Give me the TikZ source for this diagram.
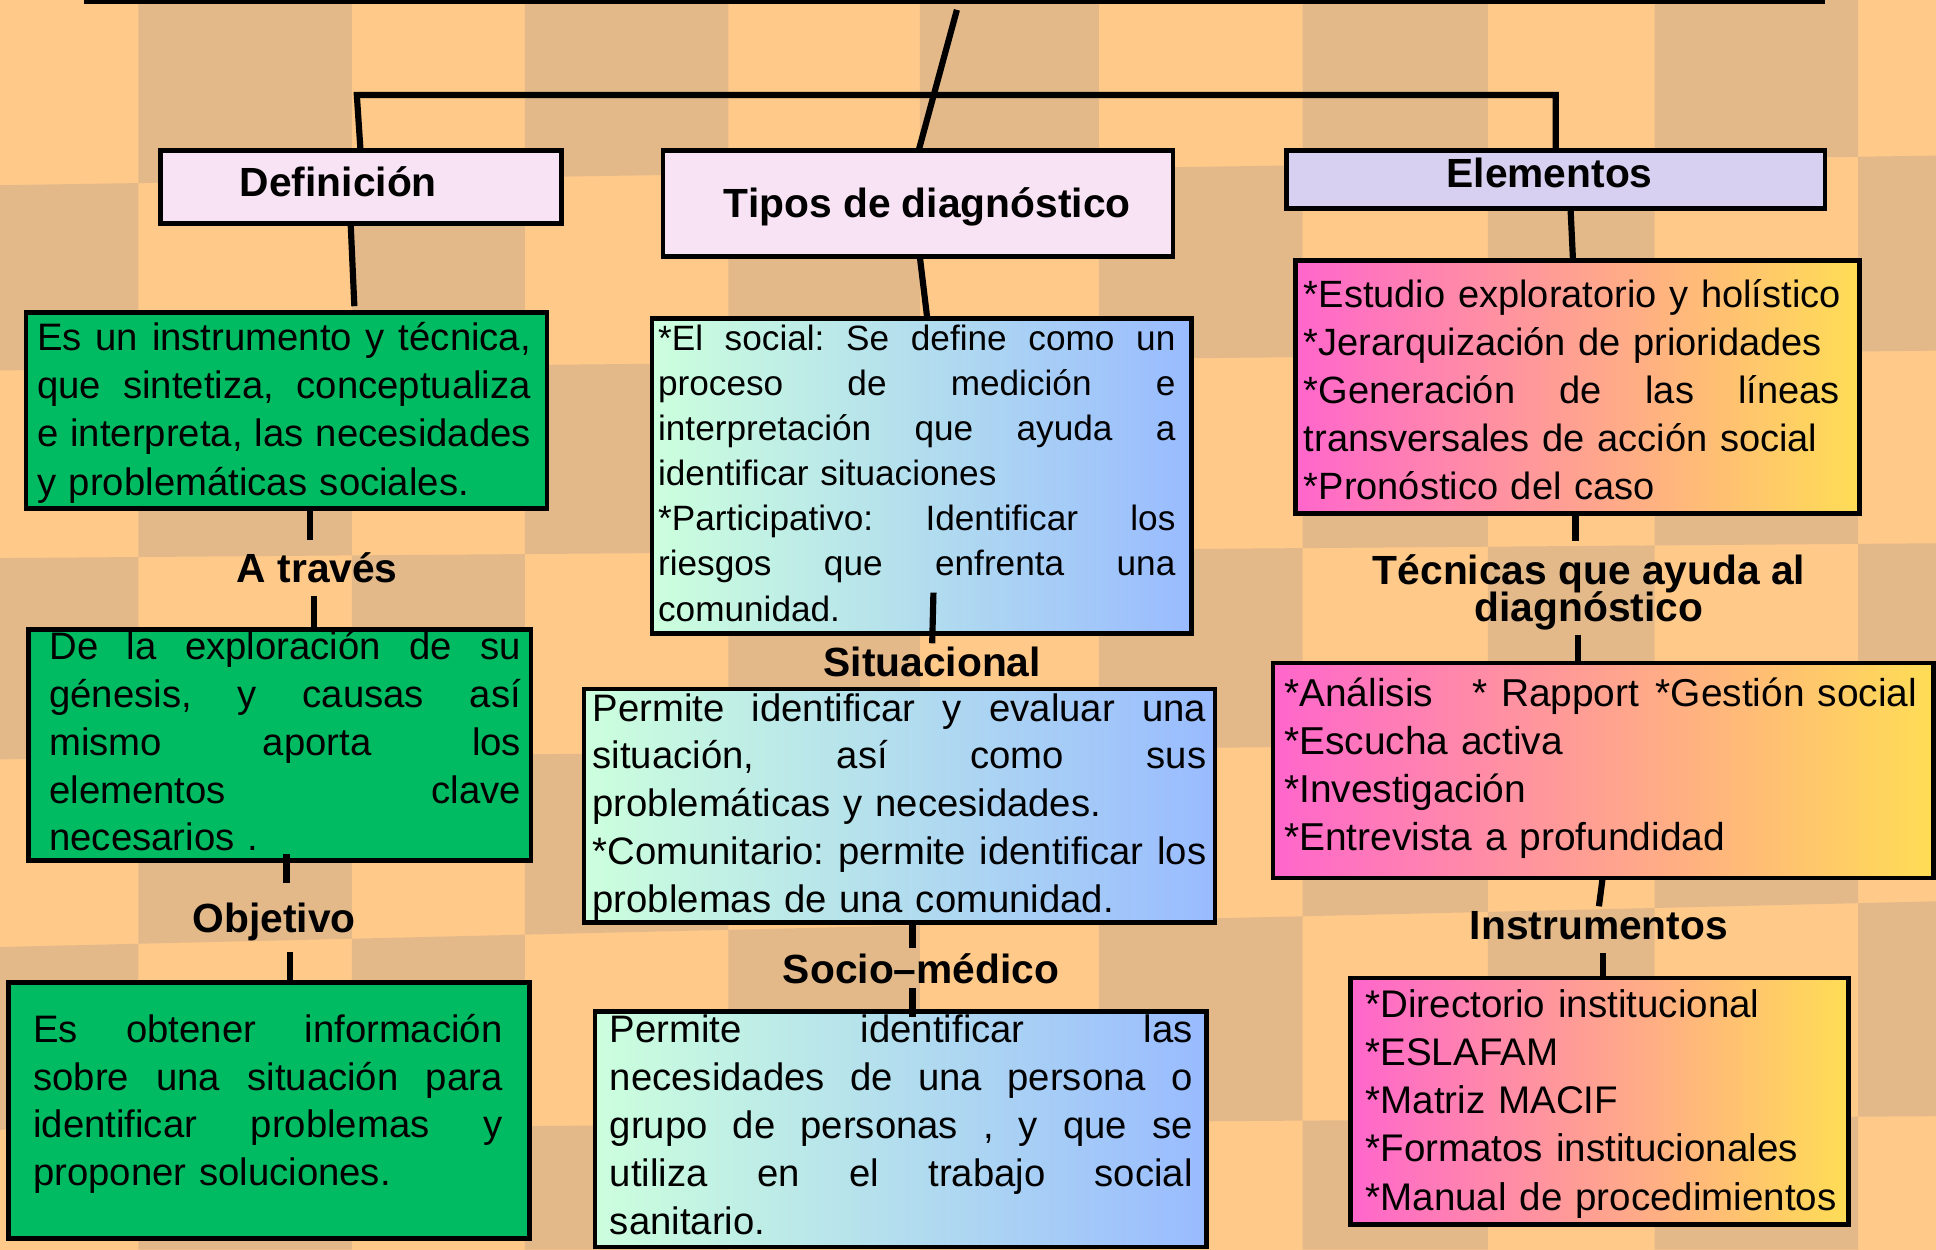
\documentclass[tikz,border=0pt]{standalone}
\usepackage{fontspec}
\setmainfont{Liberation Sans}
\definecolor{bglight}{RGB}{255,201,138}
\definecolor{bgdark}{RGB}{227,185,138}
\definecolor{headpink}{RGB}{248,227,245}
\definecolor{headlav}{RGB}{216,208,240}
\definecolor{boxgreen}{RGB}{0,187,98}
\definecolor{mintL}{RGB}{204,255,221}
\definecolor{blueR}{RGB}{153,187,255}
\definecolor{pinkL}{RGB}{255,102,204}
\definecolor{yellowR}{RGB}{255,221,85}
\newcommand{\myfs}[2]{\fontsize{#1}{#2}\selectfont}
\newcommand{\jline}[2]{\leavevmode\hbox to #1{\spaceskip=\fontdimen2\font plus 1fil\relax #2}}
\begin{document}
\begin{tikzpicture}[x=1pt,y=-1pt,
  box/.style={draw=black, line width=3.8pt, rectangle, inner sep=0pt, outer sep=0pt},
  headbox/.style={box, fill=headpink},
  lavbox/.style={box, fill=headlav},
  greenbox/.style={box, fill=boxgreen},
  bluebox/.style={box, left color=mintL, right color=blueR},
  pinkbox/.style={box, left color=pinkL, right color=yellowR},
  conn/.style={line width=5pt, line cap=butt},
  headtxt/.style={font=\myfs{33}{33}\bfseries, inner sep=0pt, outer sep=0pt, anchor=base},
  lbl/.style={font=\myfs{33}{33}\bfseries, inner sep=0pt, outer sep=0pt, text height=35pt, text depth=11pt, anchor=base},
  txt/.style={inner sep=0pt, outer sep=0pt, anchor=base west}
]
\frenchspacing
\useasboundingbox (0,0) rectangle (1568,1012);
% background checkerboard (rows slightly tilted)
\fill[bglight] (0,0) rectangle (1568,1012);
\foreach \xa/\xb [count=\i] in {0/112,112/285,285/425,425/590,590/745,745/890,890/1055,1055/1205,1205/1340,1340/1505,1505/1568}{
  \foreach \la/\ra/\lb/\rb [count=\j] in {0/0/150/126,150/126/300/284,300/284/452/440,452/440/615/600,615/600/767/730,767/730/915/904,915/904/1012/1012}{
    \pgfmathtruncatemacro\pp{mod(\i+\j,2)}
    \ifnum\pp=1
      \pgfmathsetmacro\fa{\xa/1568}
      \pgfmathsetmacro\fb{\xb/1568}
      \pgfmathsetmacro\yaa{\la+(\ra-\la)*\fa}
      \pgfmathsetmacro\yab{\la+(\ra-\la)*\fb}
      \pgfmathsetmacro\yba{\lb+(\rb-\lb)*\fa}
      \pgfmathsetmacro\ybb{\lb+(\rb-\lb)*\fb}
      \fill[bgdark] (\xa,\yaa) -- (\xb,\yab) -- (\xb,\ybb) -- (\xa,\yba) -- cycle;
    \fi
  }
}
% top border of the title box
\fill[black] (68,0) rectangle (1478,3);

% header boxes
\node[headbox, minimum width=325pt, minimum height=59pt] (defbox) at (292.5,151.5) {};
\node[headbox, minimum width=413pt, minimum height=86pt] (tipbox) at (743.5,165) {};
\node[lavbox, minimum width=436pt, minimum height=47pt] (elembox) at (1260,145.5) {};
\node[headtxt] (deft) at (274,159) {Definición};
\node[headtxt] (tipt) at (751,176) {Tipos de diagnóstico};
\node[headtxt] (elemt) at (1255,152) {Elementos};

% content boxes
\node[greenbox, minimum width=422pt, minimum height=159pt] (gb1) at (232,332.5) {};
\node[greenbox, minimum width=407pt, minimum height=187pt] (gb2) at (226.5,603.5) {};
\node[greenbox, minimum width=422pt, minimum height=207pt] (gb3) at (218,899.5) {};
\node[bluebox, minimum width=437pt, minimum height=255pt] (bb1) at (746.5,385.5) {};
\node[bluebox, minimum width=511pt, minimum height=189pt] (bb2) at (728.5,652.5) {};
\node[bluebox, minimum width=495pt, minimum height=191pt] (bb3) at (729.5,914.5) {};
\node[pinkbox, minimum width=457pt, minimum height=205pt] (pb1) at (1277.5,313.5) {};
\node[pinkbox, minimum width=535pt, minimum height=174pt] (pb2) at (1298.5,624) {};
\node[pinkbox, minimum width=403pt, minimum height=200pt] (pb3) at (1295.5,892) {};

% texts
\node[txt, font=\myfs{31}{39}, text width=400pt] (gb1t) at (30,284) {\jline{400pt}{Es un instrumento y técnica,}\\\jline{400pt}{que sintetiza, conceptualiza}\\\jline{400pt}{e interpreta, las necesidades}\\\mbox{y problemáticas sociales.}};
\node[txt, font=\myfs{31}{38.8}, text width=382pt] (gb2t) at (40,534) {\jline{382pt}{De la exploración de su}\\\jline{382pt}{génesis, y causas así}\\\jline{382pt}{mismo aporta los}\\\jline{382pt}{elementos clave}\\\mbox{necesarios .}};
\node[txt, font=\myfs{31}{38.8}, text width=380pt] (gb3t) at (27,844) {\jline{380pt}{Es obtener información}\\\jline{380pt}{sobre una situación para}\\\jline{380pt}{identificar problemas y}\\\mbox{proponer soluciones.}};
\node[txt, font=\myfs{28.5}{36.5}, text width=419pt] (bb1t) at (533,284) {\jline{419pt}{*El social: Se define como un}\\\jline{419pt}{proceso de medición e}\\\jline{419pt}{interpretación que ayuda a}\\\mbox{identificar situaciones}\\\jline{419pt}{*Participativo: Identificar los}\\\jline{419pt}{riesgos que enfrenta una}\\\mbox{comunidad.}};
\node[txt, font=\myfs{31}{38.7}, text width=497pt] (bb2t) at (480,584) {\jline{497pt}{Permite identificar y evaluar una}\\\jline{497pt}{situación, así como sus}\\\mbox{problemáticas y necesidades.}\\\jline{497pt}{*Comunitario: permite identificar los}\\\mbox{problemas de una comunidad.}};
\node[txt, font=\myfs{31}{39}, text width=472pt] (bb3t) at (494,844) {\jline{472pt}{Permite identificar las}\\\jline{472pt}{necesidades de una persona o}\\\jline{472pt}{grupo de personas , y que se}\\\jline{472pt}{utiliza en el trabajo social}\\\mbox{sanitario.}};
\node[txt, font=\myfs{30.8}{38.9}, text width=434pt] (pb1t) at (1056,249) {\mbox{*Estudio exploratorio y holístico}\\\mbox{*Jerarquización de prioridades}\\\jline{434pt}{*Generación de las líneas}\\\mbox{transversales de acción social}\\\mbox{*Pronóstico del caso}};
\node[txt, font=\myfs{31.5}{39}, text width=510pt] (pb2t) at (1040,572) {\mbox{\makebox[153pt][l]{*Análisis}\makebox[148pt][l]{* Rapport}*Gestión social}\\\mbox{*Escucha activa}\\\mbox{*Investigación}\\\mbox{*Entrevista a profundidad}};
\node[txt, font=\myfs{31.2}{39}, text width=385pt] (pb3t) at (1106,824) {\mbox{*Directorio institucional}\\\mbox{*ESLAFAM}\\\mbox{*Matriz MACIF}\\\mbox{*Formatos institucionales}\\\mbox{*Manual de procedimientos}};

% labels between boxes
\node[lbl] (atraves) at (257,472) {A través};
\node[lbl] (objetivo) at (222,755) {Objetivo};
\node[lbl] (situ) at (755,548) {Situacional};
\node[lbl] (socio) at (746,796.5) {Socio–médico};
\node[lbl] (tec) at (1287,473) {Técnicas que ayuda al};
\node[lbl] (tecb) at (1287,503) {diagnóstico};
\node[lbl] (instr) at (1295,761) {Instrumentos};

% connectors
\coordinate (ttop) at (775,8);
\coordinate (bl) at (289,77);
\coordinate (br) at (1260,77);
\coordinate (c1) at (756,480);
\draw[conn] (ttop) -- ([xshift=0.5pt]tipbox.north);
\draw[conn, line join=miter] ([xshift=-0.5pt]defbox.north) -- (bl) -- (br) -- (elembox.north);
\draw[conn] ([xshift=-8.5pt]defbox.south) -- ([xshift=55pt,yshift=5pt]gb1.north);
\draw[conn] ([xshift=1.5pt]tipbox.south) -- ([xshift=4.5pt]bb1.north);
\draw[conn] ([xshift=12pt]elembox.south) -- ([xshift=-3.5pt]pb1.north);
\draw[conn] ([xshift=19pt]gb1.south) -- ([xshift=-6pt]atraves.north);
\draw[conn] ([xshift=-3pt]atraves.south) -- ([xshift=27.5pt]gb2.north);
\draw[conn] ([xshift=5.5pt,yshift=5pt]gb2.south) -- ([xshift=10pt,yshift=5pt]objetivo.north);
\draw[conn] ([xshift=13pt,yshift=-5pt]objetivo.south) -- ([xshift=17pt]gb3.north);
\draw[conn] (c1) -- ([yshift=-8pt]situ.north);
\draw[conn] ([xshift=10.5pt]bb2.south) -- ([xshift=-7pt,yshift=-6.5pt]socio.north);
\draw[conn] ([xshift=-7pt,yshift=7.5pt]socio.south) -- ([xshift=9.5pt,yshift=-5pt]bb3.north);
\draw[conn] ([xshift=-1.5pt]pb1.south) -- ([xshift=-11pt]tec.north);
\draw[conn] ([xshift=-9pt]tecb.south) -- ([xshift=-20.5pt]pb2.north);
\draw[conn] ([xshift=-0.5pt]pb2.south) -- ([yshift=-8pt]instr.north);
\draw[conn] ([xshift=3pt]instr.south) -- ([xshift=2.5pt]pb3.north);
\end{tikzpicture}
\end{document}
